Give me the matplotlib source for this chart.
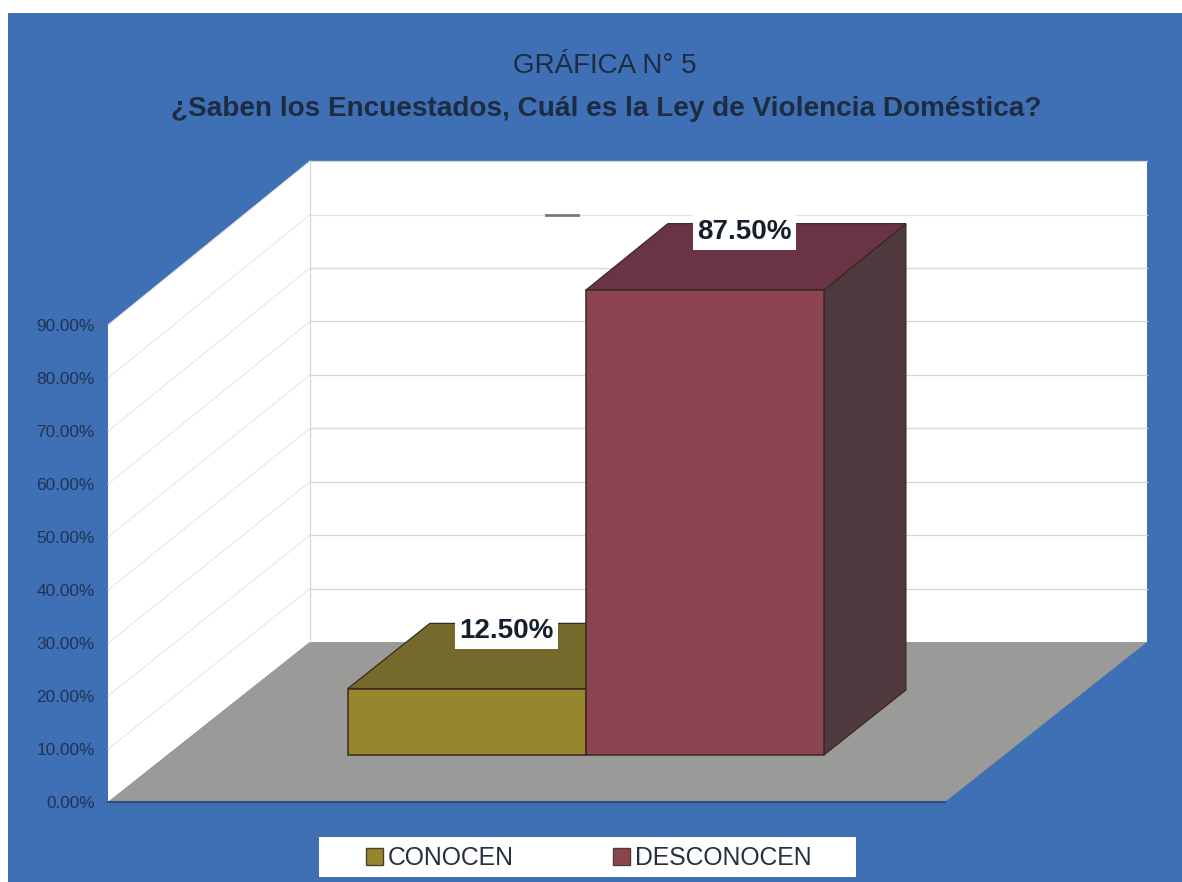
import matplotlib
matplotlib.use('Agg')
from matplotlib import pyplot as plt
from matplotlib.patches import Polygon, Rectangle, Patch

plt.rcParams['font.family'] = ['Liberation Sans', 'DejaVu Sans']

# datos
series = ['CONOCEN', 'DESCONOCEN']
valores = [12.5, 87.5]
ticks = [0, 10, 20, 30, 40, 50, 60, 70, 80, 90]
titulo = 'GRÁFICA N° 5'
subtitulo = '¿Saben los Encuestados, Cuál es la Ley de Violencia Doméstica?'

# colores: frente, arriba, costado
col_frente = ['#97862c', '#8c4352']
col_arriba = ['#75692c', '#6b3346']
col_lado = ['#5a5026', '#4e3a3f']
azul = '#3f6fb5'

W, H = 1182, 882
fig = plt.figure(figsize=(W / 100, H / 100), dpi=100, facecolor='white')

# fondo azul
fig.patches.append(Rectangle((8 / W, 0), 1 - 8 / W, 1 - 13 / H, transform=fig.transFigure,
                             facecolor=azul, edgecolor='none', zorder=-2))

# el plano frontal del grafico: x de 0 a 1, y en porcentaje
ax = fig.add_axes([108 / W, (H - 802) / H, 837 / W, 477 / H])
ax.set_xlim(0, 1)
ax.set_ylim(0, 90)
ax.patch.set_visible(False)
for s in ax.spines.values():
    s.set_visible(False)

dx = 202 / 837.0   # corrimiento de profundidad
dy = 160 / 5.3


def p(x, y, d):
    # perspectiva oblicua, d=0 adelante, d=1 atras
    return x + d * dx, y * (1 + 0.008 * d) + d * dy


def cara(puntos, color, z, ec='none', lw=0):
    ax.add_patch(Polygon([p(*q) for q in puntos], closed=True, facecolor=color,
                         edgecolor=ec, linewidth=lw, zorder=z, clip_on=False))


# paredes y piso
cara([(0, 0, 0), (0, 0, 1), (0, 90, 1), (0, 90, 0)], 'white', 1)
cara([(0, 0, 1), (1, 0, 1), (1, 90, 1), (0, 90, 1)], 'white', 1)
cara([(0, 0, 0), (1, 0, 0), (1, 0, 1), (0, 0, 1)], '#9a9a98', 2)
ax.plot([0, 1], [0, 0], color='#2f4f7f', lw=1.5, zorder=2, clip_on=False)

# lineas de division
for t in ticks[1:]:
    a = p(0, t, 0)
    b = p(0, t, 1)
    c = p(1, t, 1)
    col_fondo = '#e4e4e4' if t == 80 else '#d6d6d6'
    ax.plot([a[0], b[0]], [a[1], b[1]], color='#e6e6e6', lw=0.8, zorder=2, clip_on=False)
    ax.plot([b[0], c[0]], [b[1], c[1]], color=col_fondo, lw=0.9, zorder=2, clip_on=False)
a = p(0, 0, 1)
b = p(0, 90, 1)
ax.plot([a[0], b[0]], [a[1], b[1]], color='#d6d6d6', lw=0.9, zorder=2, clip_on=False)
# rayita oscura de la linea superior
a = p(0.282, 80, 1)
b = p(0.320, 80, 1)
ax.plot([a[0], b[0]], [a[1], b[1]], color='#777777', lw=2, zorder=2, clip_on=False)

# barras en 3d
ancho = 238 / 837.0
x0 = 0.5 - ancho
d0, d1 = 0.294, 0.70
borde = '#3a2a20'
for i, v in enumerate(valores):
    xa = x0 + i * ancho
    xb = xa + ancho
    z = 3 + i
    cara([(xb, 0, d0), (xb, 0, d1), (xb, v, d1), (xb, v, d0)], col_lado[i], z, borde, 0.9)
    cara([(xa, v, d0), (xb, v, d0), (xb, v, d1), (xa, v, d1)], col_arriba[i], z, borde, 0.9)
    cara([(xa, 0, d0), (xb, 0, d0), (xb, v, d0), (xa, v, d0)], col_frente[i], z, borde, 1.1)

# etiquetas de datos
for i, v in enumerate(valores):
    xa = x0 + i * ancho
    cx, cy = p(xa + ancho / 2, v, (d0 + d1) / 2)
    ax.annotate('%.2f%%' % v, (cx, cy), xytext=(-1, 18), textcoords='offset points',
                ha='center', va='center', fontsize=20, fontweight='bold', color='#14202c',
                bbox=dict(facecolor='white', edgecolor='none', pad=3.5), zorder=8,
                annotation_clip=False)

# eje y
ax.set_xticks([])
ax.set_yticks(ticks)
ax.set_yticklabels(['%.2f%%' % t for t in ticks], fontsize=12.4, color='#1f3355')
ax.tick_params(axis='y', length=4.5, width=0.8, color='#4f6488', pad=5)

# titulos
fig.text(605 / W, 1 - 66 / H, titulo, ha='center', va='center', fontsize=20, color='#1d2c40')
fig.text(606 / W, 1 - 108.5 / H, subtitulo, ha='center', va='center', fontsize=20.1,
         fontweight='bold', color='#1d2c40')

# leyenda
fig.patches.append(Rectangle((319 / W, (H - 877) / H), 537 / W, 40 / H, transform=fig.transFigure,
                             facecolor='white', edgecolor='none', zorder=-1))
handles = [Patch(facecolor=col_frente[i], edgecolor='#4a4030', label=series[i]) for i in range(2)]
leg = fig.legend(handles=handles, loc='center', bbox_to_anchor=(589 / W, 1 - 858 / H), ncol=2,
                 frameon=False, fontsize=17.8, handlelength=0.7, handleheight=0.7,
                 handletextpad=0.2, columnspacing=4.0, labelcolor='#26303c')

fig.savefig('out.png', dpi=100, facecolor=fig.get_facecolor())
